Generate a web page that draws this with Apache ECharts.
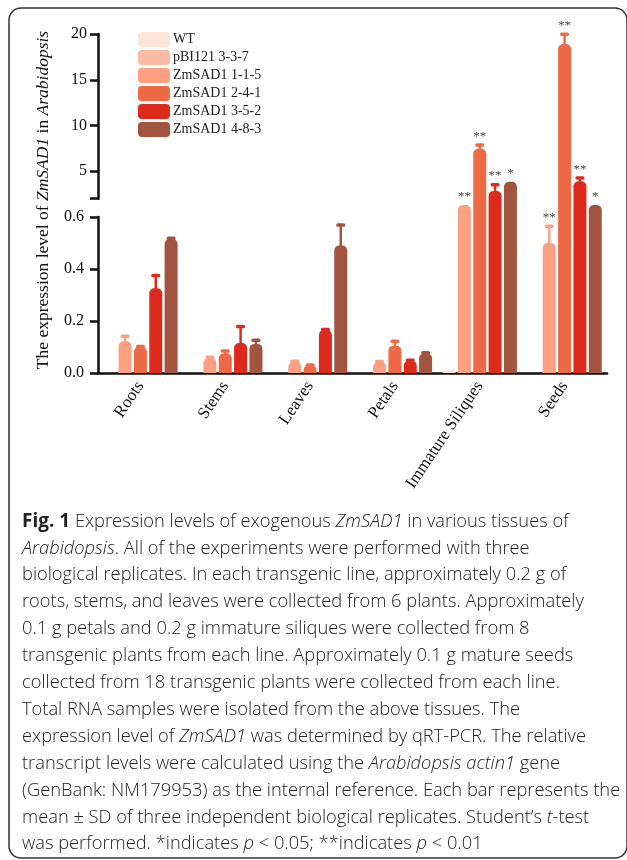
<!DOCTYPE html>
<html>
<head>
<meta charset="utf-8">
<script src="https://cdn.jsdelivr.net/npm/echarts@6/dist/echarts.min.js"></script>
<style>
html,body{margin:0;padding:0;background:#fff;}
#chart{width:627px;height:860px;}
</style>
</head>
<body>
<div id="chart"></div>
<script>
// ---------------- data ----------------
const categories = ['Roots', 'Stems', 'Leaves', 'Petals', 'Immature Siliques', 'Seeds'];
const seriesNames = ['WT', 'pBI121 3-3-7', 'ZmSAD1 1-1-5', 'ZmSAD1 2-4-1', 'ZmSAD1 3-5-2', 'ZmSAD1 4-8-3'];
const colors = ['#fde4d9', '#fcbca3', '#fca081', '#ee6946', '#dc2a1d', '#a2553e'];

const wtValues    = [0, 0, 0, 0, 0.01, 0];
const pbiValues   = [0, 0, 0, 0, 0, 0];
const z115Values  = [0.122, 0.058, 0.042, 0.042, 1.3, 0.50];
const z241Values  = [0.100, 0.076, 0.030, 0.105, 7.45, 18.9];
const z352Values  = [0.326, 0.115, 0.165, 0.047, 2.85, 3.9];
const z483Values  = [0.515, 0.112, 0.490, 0.075, 3.85, 1.3];

const wtErr   = [0, 0, 0, 0, 0, 0];
const pbiErr  = [0, 0, 0, 0, 0, 0];
const z115Err = [0.02, 0.004, 0.004, 0.003, 0, 0.065];
const z241Err = [0.003, 0.01, 0.002, 0.018, 0.45, 1.1];
const z352Err = [0.05, 0.065, 0.003, 0.003, 0.7, 0.4];
const z483Err = [0.004, 0.015, 0.08, 0.004, 0, 0];

const wtSig   = ['', '', '', '', '', ''];
const pbiSig  = ['', '', '', '', '', ''];
const z115Sig = ['', '', '', '', '**', '**'];
const z241Sig = ['', '', '', '', '**', '**'];
const z352Sig = ['', '', '', '', '**', '**'];
const z483Sig = ['', '', '', '', '*', '*'];

const lowerMax = 0.6;           // top of lower axis segment (axis break)
const lowerInterval = 0.2;
const upperMin = 2;             // visible start of upper axis line
const upperMax = 20;
const upperTickValues = [2, 5, 10, 15, 20];
const upperLabelValues = [5, 10, 15, 20];

// ---------------- build ----------------
const allValues = [wtValues, pbiValues, z115Values, z241Values, z352Values, z483Values];
const allErr = [wtErr, pbiErr, z115Err, z241Err, z352Err, z483Err];
const allSig = [wtSig, pbiSig, z115Sig, z241Sig, z352Sig, z483Sig];
const slotOf = [0, 0, 1, 2, 3, 4];  // WT and pBI121 share the control slot
const nSlots = 5;
const BAR_W = 13, BAR_GAP = 0.18, RADIUS = 5;
const serif = 'Liberation Serif, Times New Roman, serif';

const chart = echarts.init(document.getElementById('chart'), null, {renderer: 'canvas'});

const gridLeft = 98, gridRight = 20;
const lowerTop = 217, lowerBottom = 373;
const upperTop = 34;
const upperPxPerUnit = (lowerTop - upperTop) / upperMax;

const series = [];
seriesNames.forEach((name, s) => {
  const vals = allValues[s];
  const stack = s < 2 ? 'ctrl' : undefined;
  series.push({
    name, type: 'bar', xAxisIndex: 0, yAxisIndex: 0,
    stack: stack ? stack + 'Low' : undefined,
    barWidth: BAR_W, barGap: (BAR_GAP * 100) + '%',
    itemStyle: {color: colors[s]},
    data: vals.map(v => ({value: v, itemStyle: {borderRadius: v > lowerMax ? 0 : [RADIUS, RADIUS, 0, 0]}})),
    clip: true, animation: false
  });
  series.push({
    name, type: 'bar', xAxisIndex: 1, yAxisIndex: 1,
    stack: stack ? stack + 'Up' : undefined,
    barWidth: BAR_W, barGap: (BAR_GAP * 100) + '%',
    itemStyle: {color: colors[s], borderRadius: [RADIUS, RADIUS, 0, 0]},
    data: vals.map(v => v > lowerMax ? v : '-'),
    animation: false
  });
});

function makeErrSeries(upper) {
  const items = [];
  const meta = [];
  allValues.forEach((vals, s) => {
    vals.forEach((v, c) => {
      const inSeg = upper ? v > lowerMax : v <= lowerMax;
      if (!inSeg) return;
      if (allErr[s][c] > 0 || allSig[s][c]) {
        items.push([c, v, allErr[s][c], slotOf[s]]);
        meta.push({color: colors[s], sig: allSig[s][c]});
      }
    });
  });
  return {
    type: 'custom',
    xAxisIndex: upper ? 1 : 0, yAxisIndex: upper ? 1 : 0,
    clip: false, animation: false, silent: true, z: 3,
    data: items,
    renderItem: function (params, api) {
      const c = api.value(0), v = api.value(1), e = api.value(2), slot = api.value(3);
      const m = meta[params.dataIndex];
      const total = nSlots * BAR_W + (nSlots - 1) * BAR_W * BAR_GAP;
      const dx = -total / 2 + BAR_W / 2 + slot * BAR_W * (1 + BAR_GAP);
      const base = api.coord([c, v]);
      const top = api.coord([c, v + e]);
      const x = base[0] + dx;
      const children = [];
      if (e > 0) {
        children.push({type: 'line', shape: {x1: x, y1: base[1] + 1, x2: x, y2: top[1]},
          style: {stroke: m.color, lineWidth: 2.5}});
        children.push({type: 'rect', shape: {x: x - 4.5, y: top[1] - 1.5, width: 9, height: 3.5, r: 1.5},
          style: {fill: m.color}});
      }
      if (m.sig) {
        children.push({type: 'text', x: x, y: top[1] - 2,
          style: {text: m.sig, fill: '#444', font: '13px ' + serif, align: 'center', verticalAlign: 'bottom'}});
      }
      return {type: 'group', children};
    }
  };
}
series.push(makeErrSeries(false));
series.push(makeErrSeries(true));

const axisColor = '#111';
const option = {
  animation: false,
  backgroundColor: '#fff',
  legend: {
    orient: 'vertical', left: 133, top: 27,
    itemWidth: 32, itemHeight: 15, itemGap: 3,
    icon: 'roundRect',
    data: seriesNames,
    textStyle: {fontFamily: serif, fontSize: 14, color: '#222', padding: [0, 0, 0, -2]},
    selectedMode: false
  },
  grid: [
    {left: gridLeft, right: gridRight, top: lowerTop, height: lowerBottom - lowerTop},
    {left: gridLeft, right: gridRight, top: upperTop, height: lowerTop - upperTop},
    {left: gridLeft, right: gridRight, top: upperTop, height: (upperMax - upperMin) * upperPxPerUnit}
  ],
  xAxis: [
    {type: 'category', gridIndex: 0, data: categories,
      axisLine: {lineStyle: {color: axisColor, width: 2.5}},
      axisTick: {alignWithLabel: true, length: 8, lineStyle: {color: axisColor, width: 2.5}},
      axisLabel: {rotate: 56, fontFamily: serif, fontSize: 17, color: '#111', margin: 10}},
    {type: 'category', gridIndex: 1, data: categories, show: false},
    {type: 'category', gridIndex: 2, data: categories, show: false}
  ],
  yAxis: [
    {type: 'value', gridIndex: 0, min: 0, max: lowerMax, interval: lowerInterval,
      splitLine: {show: false},
      axisLine: {show: true, lineStyle: {color: axisColor, width: 2.5}},
      axisTick: {show: true, length: 8, lineStyle: {color: axisColor, width: 2.5}},
      axisLabel: {fontFamily: serif, fontSize: 16, color: '#111', margin: 14, formatter: v => v.toFixed(1)}},
    {type: 'value', gridIndex: 1, min: 0, max: upperMax, show: false, splitLine: {show: false}},
    {type: 'value', gridIndex: 2, min: upperMin, max: upperMax,
      splitLine: {show: false},
      axisLine: {show: true, lineStyle: {color: axisColor, width: 2.5}},
      axisTick: {show: true, length: 8, customValues: upperTickValues, lineStyle: {color: axisColor, width: 2.5}},
      axisLabel: {fontFamily: serif, fontSize: 16, color: '#111', margin: 11, customValues: upperLabelValues}}
  ],
  series: series,
  graphic: [
    {type: 'rect', shape: {x: 9, y: 8, width: 618, height: 850, r: 12},
      style: {fill: 'none', stroke: '#333', lineWidth: 1.5}, silent: true},
    {type: 'text', x: 43, y: 200, rotation: Math.PI / 2,
      style: {
        text: '{a|The expression level of }{b|ZmSAD1}{a| in }{b|Arabidopsis}',
        align: 'center', verticalAlign: 'middle',
        rich: {
          a: {fontFamily: serif, fontSize: 17.5, fill: '#111'},
          b: {fontFamily: serif, fontSize: 17.5, fontStyle: 'italic', fill: '#111'}
        }
      }},
    {type: 'text', x: 22, y: 508,
      style: {
        text: [
          '{fb|Fig. 1}{n| Expression levels of exogenous }{i|ZmSAD1}{n| in various tissues of}',
          '{i|Arabidopsis}{n|. All of the experiments were performed with three}',
          '{n|biological replicates. In each transgenic line, approximately 0.2 g of}',
          '{n|roots, stems, and leaves were collected from 6 plants. Approximately}',
          '{n|0.1 g petals and 0.2 g immature siliques were collected from 8}',
          '{n|transgenic plants from each line. Approximately 0.1 g mature seeds}',
          '{n|collected from 18 transgenic plants were collected from each line.}',
          '{n|Total RNA samples were isolated from the above tissues. The}',
          '{n|expression level of }{i|ZmSAD1}{n| was determined by qRT-PCR. The relative}',
          '{n|transcript levels were calculated using the }{i|Arabidopsis actin1}{n| gene}',
          '{n|(GenBank: NM179953) as the internal reference. Each bar represents the}',
          '{n|mean ± SD of three independent biological replicates. Student\u2019s }{i|t}{n|-test}',
          '{n|was performed. *indicates }{i|p}{n| < 0.05; **indicates }{i|p}{n| < 0.01}'
        ].join('\n'),
        rich: {
          n: {fontFamily: 'Open Sans', fontSize: 18.3, fontWeight: 300, fill: '#222', lineHeight: 26.9},
          i: {fontFamily: 'Open Sans', fontSize: 18.3, fontWeight: 300, fontStyle: 'italic', fill: '#222', lineHeight: 26.9},
          fb: {fontFamily: 'Open Sans', fontSize: 19, fontWeight: 'bold', fill: '#222', lineHeight: 26.9}
        }
      }}
  ]
};
chart.setOption(option);
</script>
</body>
</html>
